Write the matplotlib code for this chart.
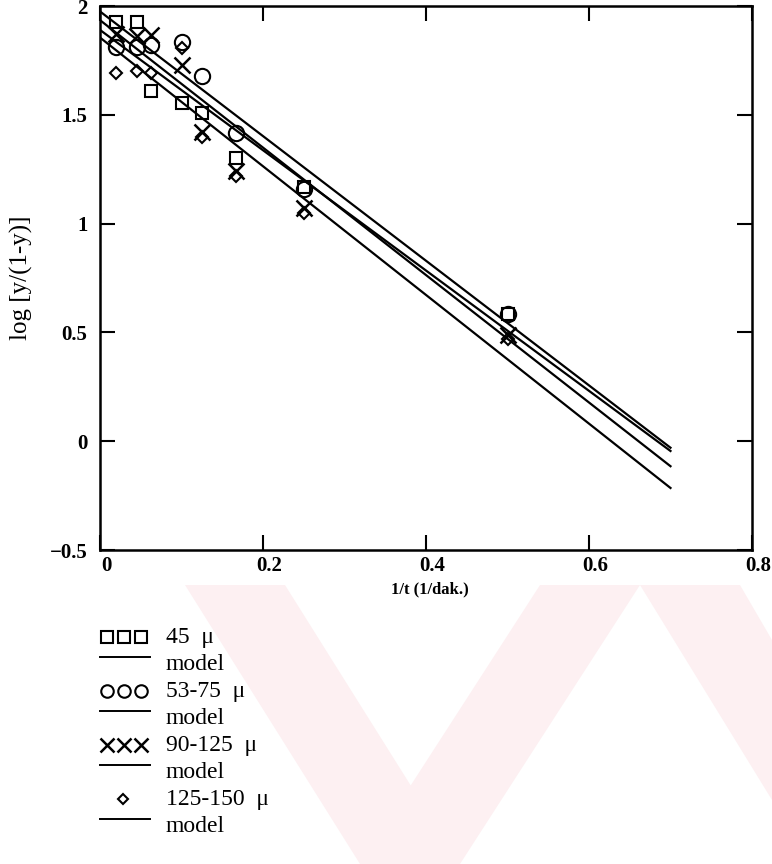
import matplotlib
matplotlib.use("Agg")
import matplotlib.pyplot as plt
import matplotlib.transforms as mtransforms
from matplotlib.lines import Line2D
from matplotlib.patches import Polygon

plt.rcParams['font.family'] = ['Liberation Serif', 'DejaVu Serif']

# 1/t values (1/dak.)
inv_t = [0.02, 0.045, 0.063, 0.1, 0.125, 0.167, 0.25, 0.5]

# log [y/(1-y)] for each particle size
y_45 = [1.926, 1.926, 1.609, 1.554, 1.508, 1.30, 1.17, 0.585]
y_53_75 = [1.81, 1.81, 1.82, 1.835, 1.68, 1.416, 1.159, 0.585]
y_90_125 = [1.87, 1.86, 1.865, 1.729, 1.42, 1.24, 1.072, 0.488]
y_125_150 = [1.69, 1.70, 1.69, 1.807, 1.40, 1.22, 1.05, 0.47]

# model lines, evaluated at the two ends of the fitted range
model_x = [0.0, 0.7]
model_45 = [1.975, -0.03]
model_53_75 = [1.89, -0.045]
model_90_125 = [1.935, -0.115]
model_125_150 = [1.855, -0.215]

labels = ['45  \u03bc', '53-75  \u03bc', '90-125  \u03bc', '125-150  \u03bc']

fig = plt.figure(figsize=(7.72, 8.64), dpi=100)

# faint background watermark in the lower part
bg = fig.add_axes([0, 0, 1, 1], facecolor='none', zorder=-5)
bg.set_xlim(0, 772)
bg.set_ylim(864, 0)
bg.axis('off')
pink = '#fdf0f2'
for pts in [
    [(185, 585), (285, 585), (460, 864), (360, 864)],
    [(360, 864), (460, 864), (640, 585), (540, 585)],
    [(640, 585), (740, 585), (772, 640), (772, 800)],
]:
    bg.add_patch(Polygon(pts, closed=True, facecolor=pink, edgecolor='none'))

ax = fig.add_axes([100 / 772, 1 - 550 / 864, 652 / 772, 544 / 864])

mk = dict(linestyle='none', markerfacecolor='none', markeredgecolor='black', markeredgewidth=1.5)
ax.plot(inv_t, y_45, marker='s', markersize=9, **mk)
ax.plot(inv_t, y_53_75, marker='o', markersize=11, **mk)
ax.plot(inv_t, y_90_125, marker='x', markersize=11, color='black', linestyle='none', markeredgewidth=1.8)
ax.plot(inv_t, y_125_150, marker='D', markersize=6, **mk)

for m in [model_45, model_53_75, model_90_125, model_125_150]:
    ax.plot(model_x, m, color='black', linewidth=1.6)

ax.set_xlim(0, 0.8)
ax.set_ylim(-0.5, 2)
ax.set_xticks([0, 0.2, 0.4, 0.6, 0.8])
ax.set_xticklabels(['0', '0.2', '0.4', '0.6', '0.8'])
ax.set_yticks([-0.5, 0, 0.5, 1, 1.5, 2])
ax.set_yticklabels(['\u22120.5', '0', '0.5', '1', '1.5', '2'])
ax.tick_params(direction='in', length=11, width=1.5, top=True, right=True, labelsize=15)
ax.tick_params(axis='y', pad=9)
ax.tick_params(axis='x', pad=4)
shift = mtransforms.ScaledTranslation(6 / 100, 0, fig.dpi_scale_trans)
for lab in ax.get_xticklabels():
    lab.set_fontweight('bold')
    lab.set_transform(lab.get_transform() + shift)
for lab in ax.get_yticklabels():
    lab.set_fontweight('bold')
for s in ax.spines.values():
    s.set_linewidth(1.8)

fig.text(430 / 772, 1 - 589 / 864, '1/t (1/dak.)', fontsize=12, fontweight='bold',
         ha='center', va='center')
ax.set_ylabel('log [y/(1-y)]', fontsize=18, labelpad=12)

# legend drawn under the plot
leg = fig.add_axes([0, 0, 1, 1], facecolor='none')
leg.set_xlim(0, 772)
leg.set_ylim(864, 0)
leg.axis('off')
row0, step = 637, 27
text_x = 166
styles = [
    dict(marker='s', markersize=8, xs=[107, 124, 141]),
    dict(marker='o', markersize=9, xs=[107, 124, 141]),
    dict(marker='x', markersize=10, xs=[107, 124, 141]),
    dict(marker='D', markersize=5, xs=[123]),
]
for i, (lab, st) in enumerate(zip(labels, styles)):
    y = row0 + 2 * i * step
    if st['marker'] == 'x':
        leg.plot(st['xs'], [y] * len(st['xs']), marker='x', markersize=st['markersize'],
                 color='black', linestyle='none', markeredgewidth=1.8)
    else:
        leg.plot(st['xs'], [y] * len(st['xs']), marker=st['marker'],
                 markersize=st['markersize'], **mk)
    leg.text(text_x, y, lab, fontsize=17, va='center', ha='left')
    ym = y + step
    leg.add_line(Line2D([100, 150], [ym - 7, ym - 7], color='black', linewidth=1.4))
    leg.text(text_x, ym, 'model', fontsize=17, va='center', ha='left')

fig.savefig('out.png', dpi=100)
